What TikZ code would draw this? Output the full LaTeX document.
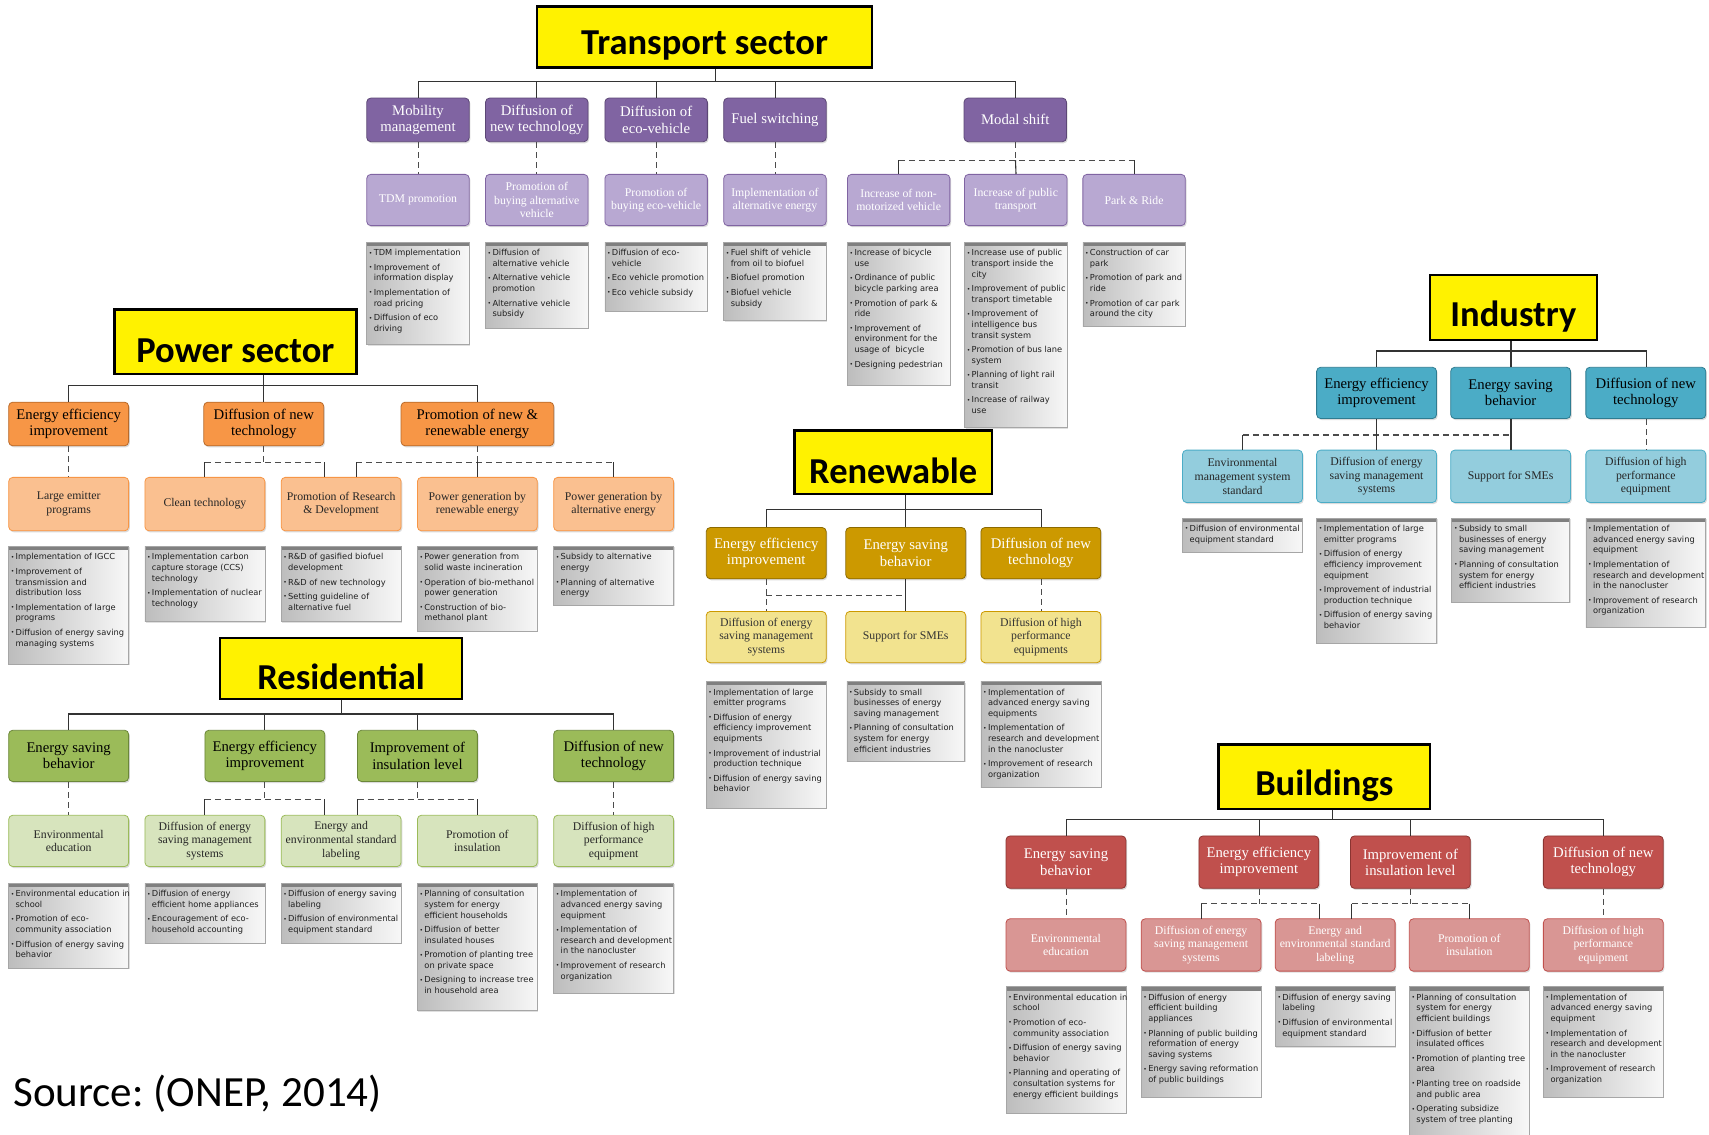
\documentclass[tikz,border=0pt]{standalone}
\usepackage{fontspec}
\setmainfont{Liberation Serif}
\newfontfamily\ttlfont{Carlito}
\newfontfamily\bulfont{DejaVu Sans}
\usetikzlibrary{shadows}
\definecolor{tpC}{HTML}{8064A2}\definecolor{tpB}{HTML}{5C4776}\definecolor{tpG}{HTML}{B8A8D2}
\definecolor{pwC}{HTML}{F79646}\definecolor{pwB}{HTML}{B96A2A}\definecolor{pwG}{HTML}{FAC090}
\definecolor{rsC}{HTML}{9BBB59}\definecolor{rsB}{HTML}{6B8739}\definecolor{rsG}{HTML}{D7E4BD}
\definecolor{rnC}{HTML}{CC9900}\definecolor{rnB}{HTML}{8C6A00}\definecolor{rnG}{HTML}{F2E38F}
\definecolor{inC}{HTML}{4BACC6}\definecolor{inB}{HTML}{2E7C91}\definecolor{inG}{HTML}{93CDDD}
\definecolor{bdC}{HTML}{C0504D}\definecolor{bdB}{HTML}{8B3431}\definecolor{bdG}{HTML}{D99694}
\newcommand{\bu}{{\fontsize{5.5}{5}\selectfont\raisebox{0.5pt}{•}}}
\newcommand{\bi}{\bu&}
\newcommand{\cl}{\\&}
\newcommand{\nx}{\\[3.5pt]}
\newcommand{\blist}[1]{\begin{tabular}{@{}l@{\hspace{1.2pt}}l@{}}#1\end{tabular}}
\newcommand{\lowr}[1]{\raisebox{-8pt}[\height][\depth]{#1}}
\tikzset{
  basebox/.style={rounded corners=4pt, align=center, inner sep=1pt, line width=0.8pt,
    drop shadow={opacity=0.28, shadow xshift=1.2pt, shadow yshift=-1.6pt}},
  kidbox/.style={basebox, minimum width=110pt, minimum height=47pt, font=\fontsize{13.5}{15}\selectfont},
  grandbox/.style={basebox, minimum width=110pt, minimum height=47pt, font=\fontsize{10.8}{12.6}\selectfont},
  ttlbox/.style={draw=black, fill=yellow, line width=2.2pt, inner sep=0pt, font=\ttlfont\bfseries\fontsize{33.5}{36}\selectfont},
  tK/.style={kidbox, fill=tpC, draw=tpB, text=white, minimum width=94pt, minimum height=40pt},
  tG/.style={grandbox, fill=tpG, draw=tpC, text=white, minimum width=94pt},
  pK/.style={kidbox, fill=pwC, draw=pwB, text=black, minimum height=40pt},
  pG/.style={grandbox, fill=pwG, draw=pwC, text=black!85, minimum height=49pt},
  rK/.style={kidbox, fill=rsC, draw=rsB, text=black},
  rG/.style={grandbox, fill=rsG, draw=rsC, text=black!85},
  nK/.style={kidbox, fill=rnC, draw=rnB, text=white},
  nG/.style={grandbox, fill=rnG, draw=rnC, text=black!80},
  iK/.style={kidbox, fill=inC, draw=inB, text=black},
  iG/.style={grandbox, fill=inG, draw=inC, text=black!85, minimum height=48pt},
  dK/.style={kidbox, fill=bdC, draw=bdB, text=white, minimum height=48pt},
  dG/.style={grandbox, fill=bdG, draw=bdC, text=white, minimum height=48pt},
  bbox/.style={draw=black!35, line width=0.6pt, left color=black!26, right color=black!3, anchor=north, inner sep=0pt,
    drop shadow={opacity=0.25, shadow xshift=1pt, shadow yshift=-1pt},
    path picture={\fill[black!50] (path picture bounding box.north west) rectangle ([yshift=-3.5pt]path picture bounding box.north east);}},
  btext/.style={anchor=north west, inner sep=0pt, font=\bulfont\fontsize{7.6}{9.8}\selectfont, text=black!88},
  conn/.style={draw=black!80, line width=1.1pt},
  dconn/.style={draw=black!70, line width=1.1pt, dash pattern=on 6pt off 4pt},
}
\begin{document}
\begin{tikzpicture}[x=1pt, y=1pt, scale=1.09, every node/.append style={transform shape}]
\useasboundingbox (0,0) rectangle (1568,-1041.3);
\fill[white] (0,0) rectangle (1568,-1041.3);

% ================= TRANSPORT =================
\node[ttlbox, minimum width=307pt, minimum height=56pt] (tt) at (646.5,-34) {\lowr{Transport sector}};
\node[tK] (tc1) at (383.5,-110) {Mobility\\management};
\node[tK] (tc2) at (492.5,-110) {Diffusion of\\new technology};
\node[tK] (tc3) at (602,-110) {Diffusion of\\eco-vehicle};
\node[tK] (tc4) at (711,-110) {Fuel switching};
\node[tK] (tc5) at (931.5,-110) {Modal shift};
\node[tG] (tg1) at (383.5,-183.5) {TDM promotion};
\node[tG] (tg2) at (492.5,-183.5) {Promotion of\\buying alternative\\vehicle};
\node[tG] (tg3) at (602,-183.5) {Promotion of\\buying eco-vehicle};
\node[tG] (tg4) at (711,-183.5) {Implementation of\\alternative energy};
\node[tG] (tg5) at (824.5,-183.5) {Increase of non-\\motorized vehicle};
\node[tG] (tg6) at (932,-183.5) {Increase of public\\transport};
\node[tG] (tg7) at (1040.5,-183.5) {Park \& Ride};
\coordinate (tbus) at (656,-75);
\draw[conn] (tt.south -| tbus) -- (tbus);
\draw[conn] (tc1.north) |- (tbus) -| (tc5.north);
\foreach \k in {2,3,4} \draw[conn] (tc\k.north) -- (tc\k.north |- tbus);
\foreach \k in {1,2,3,4} \draw[dconn] (tc\k.south) -- (tg\k.north);
\coordinate (tm) at (931.5,-147);
\draw[dconn] (tc5.south) -- (tm);
\draw[dconn] (tg5.north |- tm) -- (tg7.north |- tm);
\draw[conn] (tg5.north |- tm) -- (tg5.north);
\draw[conn] (tm) -- (tg6.north);
\draw[conn] (tg7.north |- tm) -- (tg7.north);

\node[bbox, minimum width=94pt, minimum height=94pt] (tb1) at (383.5,-222) {};
\node[btext] (tb1t) at ([xshift=2pt,yshift=-5.5pt]tb1.north west) {\blist{\bi TDM implementation\nx \bi Improvement of\cl information display\nx \bi Implementation of\cl road pricing\nx \bi Diffusion of eco\cl driving}};
\node[bbox, minimum width=94pt, minimum height=79pt] (tb2) at (492.5,-222) {};
\node[btext] (tb2t) at ([xshift=2pt,yshift=-5.5pt]tb2.north west) {\blist{\bi Diffusion of\cl alternative vehicle\nx \bi Alternative vehicle\cl promotion\nx \bi Alternative vehicle\cl subsidy}};
\node[bbox, minimum width=94pt, minimum height=63pt] (tb3) at (602,-222) {};
\node[btext] (tb3t) at ([xshift=2pt,yshift=-5.5pt]tb3.north west) {\blist{\bi Diffusion of eco-\cl vehicle\nx \bi Eco vehicle promotion\nx \bi Eco vehicle subsidy}};
\node[bbox, minimum width=94pt, minimum height=72pt] (tb4) at (711,-222) {};
\node[btext] (tb4t) at ([xshift=2pt,yshift=-5.5pt]tb4.north west) {\blist{\bi Fuel shift of vehicle\cl from oil to biofuel\nx \bi Biofuel promotion\nx \bi Biofuel vehicle\cl subsidy}};
\node[bbox, minimum width=94pt, minimum height=131pt] (tb5) at (824.5,-222) {};
\node[btext] (tb5t) at ([xshift=2pt,yshift=-5.5pt]tb5.north west) {\blist{\bi Increase of bicycle\cl use\nx \bi Ordinance of public\cl bicycle parking area\nx \bi Promotion of park \&\cl ride\nx \bi Improvement of\cl environment for the\cl usage of\ \ bicycle\nx \bi Designing pedestrian}};
\node[bbox, minimum width=94pt, minimum height=170pt] (tb6) at (932,-222) {};
\node[btext] (tb6t) at ([xshift=2pt,yshift=-5.5pt]tb6.north west) {\blist{\bi Increase use of public\cl transport inside the\cl city\nx \bi Improvement of public\cl transport timetable\nx \bi Improvement of\cl intelligence bus\cl transit system\nx \bi Promotion of bus lane\cl system\nx \bi Planning of light rail\cl transit\nx \bi Increase of railway\cl use}};
\node[bbox, minimum width=94pt, minimum height=77pt] (tb7) at (1040.5,-222) {};
\node[btext] (tb7t) at ([xshift=2pt,yshift=-5.5pt]tb7.north west) {\blist{\bi Construction of car\cl park\nx \bi Promotion of park and\cl ride\nx \bi Promotion of car park\cl around the city}};

% ================= POWER =================
\node[ttlbox, minimum width=222pt, minimum height=59pt] (pt) at (216,-313.5) {\lowr{Power sector}};
\node[pK] (pc1) at (63,-389) {Energy efficiency\\improvement};
\node[pK] (pc2) at (242,-389) {Diffusion of new\\technology};
\node[pK, minimum width=140pt] (pc3) at (438,-389) {Promotion of new \&\\renewable energy};
\node[pG] (pg1) at (63,-462.5) {Large emitter\\programs};
\node[pG] (pg2) at (188,-462.5) {Clean technology};
\node[pG] (pg3) at (313,-462.5) {Promotion of Research\\\& Development};
\node[pG] (pg4) at (438,-462.5) {Power generation by\\renewable energy};
\node[pG] (pg5) at (563,-462.5) {Power generation by\\alternative energy};
\coordinate (pbus) at (242,-354);
\draw[conn] (pt.south -| pbus) -- (pbus);
\draw[conn] (pc1.north) |- (pbus) -| (pc3.north);
\draw[conn] (pbus) -- (pc2.north);
\draw[dconn] (pc1.south) -- (pg1.north);
\coordinate (pd2) at (242,-424);
\coordinate (pd2r) at (298,-424);
\draw[dconn] (pc2.south) -- (pd2);
\draw[dconn] (pg2.north |- pd2) -- (pd2r);
\draw[conn] (pg2.north |- pd2) -- (pg2.north);
\draw[conn] (pd2r) -- (pd2r |- pg3.north);
\coordinate (pd3) at (438,-424);
\coordinate (pd3l) at (327,-424);
\draw[dconn] (pc3.south) -- (pd3);
\draw[dconn] (pd3l) -- (pg5.north |- pd3);
\draw[conn] (pd3l) -- (pd3l |- pg3.north);
\draw[conn] (pd3) -- (pg4.north);
\draw[conn] (pg5.north |- pd3) -- (pg5.north);

\node[bbox, minimum width=110pt, minimum height=108pt] (pb1) at (63,-501) {};
\node[btext] (pb1t) at ([xshift=2pt,yshift=-5.5pt]pb1.north west) {\blist{\bi Implementation of IGCC\nx \bi Improvement of\cl transmission and\cl distribution loss\nx \bi Implementation of large\cl programs\nx \bi Diffusion of energy saving\cl managing systems}};
\node[bbox, minimum width=110pt, minimum height=69pt] (pb2) at (188,-501) {};
\node[btext] (pb2t) at ([xshift=2pt,yshift=-5.5pt]pb2.north west) {\blist{\bi Implementation carbon\cl capture storage (CCS)\cl technology\nx \bi Implementation of nuclear\cl technology}};
\node[bbox, minimum width=110pt, minimum height=69pt] (pb3) at (313,-501) {};
\node[btext] (pb3t) at ([xshift=2pt,yshift=-5.5pt]pb3.north west) {\blist{\bi R\&D of gasified biofuel\cl development\nx \bi R\&D of new technology\nx \bi Setting guideline of\cl alternative fuel}};
\node[bbox, minimum width=110pt, minimum height=78pt] (pb4) at (438,-501) {};
\node[btext] (pb4t) at ([xshift=2pt,yshift=-5.5pt]pb4.north west) {\blist{\bi Power generation from\cl solid waste incineration\nx \bi Operation of bio-methanol\cl power generation\nx \bi Construction of bio-\cl methanol plant}};
\node[bbox, minimum width=110pt, minimum height=54pt] (pb5) at (563,-501) {};
\node[btext] (pb5t) at ([xshift=2pt,yshift=-5.5pt]pb5.north west) {\blist{\bi Subsidy to alternative\cl energy\nx \bi Planning of alternative\cl energy}};

% ================= RESIDENTIAL =================
\node[ttlbox, minimum width=222pt, minimum height=56pt] (rt) at (313,-613) {\lowr{Residential}};
\node[rK] (rc1) at (63,-693.5) {Energy saving\\behavior};
\node[rK] (rc2) at (243,-693.5) {Energy efficiency\\improvement};
\node[rK] (rc3) at (383,-693.5) {Improvement of\\insulation level};
\node[rK] (rc4) at (563,-693.5) {Diffusion of new\\technology};
\node[rG] (rg1) at (63,-771.5) {Environmental\\education};
\node[rG] (rg2) at (188,-771.5) {Diffusion of energy\\saving management\\systems};
\node[rG] (rg3) at (313,-771.5) {Energy and\\environmental standard\\labeling};
\node[rG] (rg4) at (438,-771.5) {Promotion of\\insulation};
\node[rG] (rg5) at (563,-771.5) {Diffusion of high\\performance\\equipment};
\coordinate (rbus) at (313,-655);
\draw[conn] (rt.south -| rbus) -- (rbus);
\draw[conn] (rc1.north) |- (rbus) -| (rc4.north);
\foreach \k in {2,3} \draw[conn] (rc\k.north) -- (rc\k.north |- rbus);
\draw[dconn] (rc1.south) -- (rg1.north);
\draw[dconn] (rc4.south) -- (rg5.north);
\coordinate (rd2) at (243,-733);
\coordinate (rd2r) at (298,-733);
\draw[dconn] (rc2.south) -- (rd2);
\draw[dconn] (rg2.north |- rd2) -- (rd2r);
\draw[conn] (rg2.north |- rd2) -- (rg2.north);
\draw[conn] (rd2r) -- (rd2r |- rg3.north);
\coordinate (rd3) at (383,-733);
\coordinate (rd3l) at (328,-733);
\draw[dconn] (rc3.south) -- (rd3);
\draw[dconn] (rd3l) -- (rg4.north |- rd3);
\draw[conn] (rd3l) -- (rd3l |- rg3.north);
\draw[conn] (rg4.north |- rd3) -- (rg4.north);

\node[bbox, minimum width=110pt, minimum height=78pt] (rb1) at (63,-810) {};
\node[btext] (rb1t) at ([xshift=2pt,yshift=-5.5pt]rb1.north west) {\blist{\bi Environmental education in\cl school\nx \bi Promotion of eco-\cl community association\nx \bi Diffusion of energy saving\cl behavior}};
\node[bbox, minimum width=110pt, minimum height=55pt] (rb2) at (188,-810) {};
\node[btext] (rb2t) at ([xshift=2pt,yshift=-5.5pt]rb2.north west) {\blist{\bi Diffusion of energy\cl efficient home appliances\nx \bi Encouragement of eco-\cl household accounting}};
\node[bbox, minimum width=110pt, minimum height=55pt] (rb3) at (313,-810) {};
\node[btext] (rb3t) at ([xshift=2pt,yshift=-5.5pt]rb3.north west) {\blist{\bi Diffusion of energy saving\cl labeling\nx \bi Diffusion of environmental\cl equipment standard}};
\node[bbox, minimum width=110pt, minimum height=117pt] (rb4) at (438,-810) {};
\node[btext] (rb4t) at ([xshift=2pt,yshift=-5.5pt]rb4.north west) {\blist{\bi Planning of consultation\cl system for energy\cl efficient households\nx \bi Diffusion of better\cl insulated houses\nx \bi Promotion of planting tree\cl on private space\nx \bi Designing to increase tree\cl in household area}};
\node[bbox, minimum width=110pt, minimum height=101pt] (rb5) at (563,-810) {};
\node[btext] (rb5t) at ([xshift=2pt,yshift=-5.5pt]rb5.north west) {\blist{\bi Implementation of\cl advanced energy saving\cl equipment\nx \bi Implementation of\cl research and development\cl in the nanocluster\nx \bi Improvement of research\cl organization}};

% ================= RENEWABLE =================
\node[ttlbox, minimum width=181pt, minimum height=58pt] (nt) at (819.5,-424) {\lowr{Renewable}};
\node[nK] (nc1) at (703,-507.5) {Energy efficiency\\improvement};
\node[nK] (nc2) at (831,-507.5) {Energy saving\\behavior};
\node[nK] (nc3) at (955,-507.5) {Diffusion of new\\technology};
\node[nG] (ng1) at (703,-584.5) {Diffusion of energy\\saving management\\systems};
\node[nG] (ng2) at (831,-584.5) {Support for SMEs};
\node[nG] (ng3) at (955,-584.5) {Diffusion of high\\performance\\equipments};
\coordinate (nbus) at (831,-467);
\draw[conn] (nt.south -| nbus) -- (nbus);
\draw[conn] (nc1.north) |- (nbus) -| (nc3.north);
\draw[conn] (nbus) -- (nc2.north);
\coordinate (nd) at (831,-546);
\draw[dconn] (nc1.south) -- (ng1.north);
\draw[dconn] (nd -| ng1.north) -- (nd);
\draw[conn] (nc2.south) -- (ng2.north);
\draw[dconn] (nc3.south) -- (ng3.north);

\node[bbox, minimum width=110pt, minimum height=116pt] (nb1) at (703,-625) {};
\node[btext] (nb1t) at ([xshift=2pt,yshift=-5.5pt]nb1.north west) {\blist{\bi Implementation of large\cl emitter programs\nx \bi Diffusion of energy\cl efficiency improvement\cl equipments\nx \bi Improvement of industrial\cl production technique\nx \bi Diffusion of energy saving\cl behavior}};
\node[bbox, minimum width=108pt, minimum height=73pt] (nb2) at (831,-625) {};
\node[btext] (nb2t) at ([xshift=2pt,yshift=-5.5pt]nb2.north west) {\blist{\bi Subsidy to small\cl businesses of energy\cl saving management\nx \bi Planning of consultation\cl system for energy\cl efficient industries}};
\node[bbox, minimum width=110pt, minimum height=97pt] (nb3) at (955,-625) {};
\node[btext] (nb3t) at ([xshift=2pt,yshift=-5.5pt]nb3.north west) {\blist{\bi Implementation of\cl advanced energy saving\cl equipments\nx \bi Implementation of\cl research and development\cl in the nanocluster\nx \bi Improvement of research\cl organization}};

% ================= INDUSTRY =================
\node[ttlbox, minimum width=153pt, minimum height=60pt] (it) at (1388.5,-282) {\lowr{Industry}};
\node[iK] (ic1) at (1263,-360.5) {Energy efficiency\\improvement};
\node[iK] (ic2) at (1386,-360.5) {Energy saving\\behavior};
\node[iK] (ic3) at (1510,-360.5) {Diffusion of new\\technology};
\node[iG] (ig1) at (1140,-437) {Environmental\\management system\\standard};
\node[iG] (ig2) at (1263,-437) {Diffusion of energy\\saving management\\systems};
\node[iG] (ig3) at (1386,-437) {Support for SMEs};
\node[iG] (ig4) at (1510,-437) {Diffusion of high\\performance\\equipment};
\coordinate (ibus) at (1386,-322);
\draw[conn] (it.south -| ibus) -- (ibus);
\draw[conn] (ic1.north) |- (ibus) -| (ic3.north);
\draw[conn] (ibus) -- (ic2.north);
\coordinate (id) at (1386,-399);
\draw[dconn] (ig1.north |- id) -- (id);
\draw[conn] (ic1.south) -- (ig2.north);
\draw[conn] (ic2.south) -- (ig3.north);
\draw[conn] (ig1.north |- id) -- (ig1.north);
\draw[dconn] (ic3.south) -- (ig4.north);

\node[bbox, minimum width=110pt, minimum height=31pt] (ib1) at (1140,-475) {};
\node[btext] (ib1t) at ([xshift=2pt,yshift=-5.5pt]ib1.north west) {\blist{\bi Diffusion of environmental\cl equipment standard}};
\node[bbox, minimum width=110pt, minimum height=115pt] (ib2) at (1263,-475) {};
\node[btext] (ib2t) at ([xshift=2pt,yshift=-5.5pt]ib2.north west) {\blist{\bi Implementation of large\cl emitter programs\nx \bi Diffusion of energy\cl efficiency improvement\cl equipment\nx \bi Improvement of industrial\cl production technique\nx \bi Diffusion of energy saving\cl behavior}};
\node[bbox, minimum width=108pt, minimum height=77pt] (ib3) at (1386,-475) {};
\node[btext] (ib3t) at ([xshift=2pt,yshift=-5.5pt]ib3.north west) {\blist{\bi Subsidy to small\cl businesses of energy\cl saving management\nx \bi Planning of consultation\cl system for energy\cl efficient industries}};
\node[bbox, minimum width=110pt, minimum height=100pt] (ib4) at (1510,-475) {};
\node[btext] (ib4t) at ([xshift=2pt,yshift=-5.5pt]ib4.north west) {\blist{\bi Implementation of\cl advanced energy saving\cl equipment\nx \bi Implementation of\cl research and development\cl in the nanocluster\nx \bi Improvement of research\cl organization}};

% ================= BUILDINGS =================
\node[ttlbox, minimum width=194pt, minimum height=59pt] (dt) at (1215,-712.5) {\lowr{Buildings}};
\node[dK] (dc1) at (978,-791) {Energy saving\\behavior};
\node[dK] (dc2) at (1155,-791) {Energy efficiency\\improvement};
\node[dK] (dc3) at (1294,-791) {Improvement of\\insulation level};
\node[dK] (dc4) at (1471,-791) {Diffusion of new\\technology};
\node[dG] (dg1) at (978,-867) {Environmental\\education};
\node[dG] (dg2) at (1102,-867) {Diffusion of energy\\saving management\\systems};
\node[dG] (dg3) at (1225,-867) {Energy and\\environmental standard\\labeling};
\node[dG] (dg4) at (1348,-867) {Promotion of\\insulation};
\node[dG] (dg5) at (1471,-867) {Diffusion of high\\performance\\equipment};
\coordinate (dbus) at (1222,-752);
\draw[conn] (dt.south -| dbus) -- (dbus);
\draw[conn] (dc1.north) |- (dbus) -| (dc4.north);
\foreach \k in {2,3} \draw[conn] (dc\k.north) -- (dc\k.north |- dbus);
\draw[dconn] (dc1.south) -- (dg1.north);
\draw[dconn] (dc4.south) -- (dg5.north);
\coordinate (dd2) at (1155,-829);
\coordinate (dd2r) at (1210,-829);
\draw[dconn] (dc2.south) -- (dd2);
\draw[dconn] (dg2.north |- dd2) -- (dd2r);
\draw[conn] (dg2.north |- dd2) -- (dg2.north);
\draw[conn] (dd2r) -- (dd2r |- dg3.north);
\coordinate (dd3) at (1294,-829);
\coordinate (dd3l) at (1240,-829);
\draw[dconn] (dc3.south) -- (dd3);
\draw[dconn] (dd3l) -- (dg4.north |- dd3);
\draw[conn] (dd3l) -- (dd3l |- dg3.north);
\draw[conn] (dg4.north |- dd3) -- (dg4.north);

\node[bbox, minimum width=110pt, minimum height=116pt] (bb1) at (978,-905) {};
\node[btext] (bb1t) at ([xshift=2pt,yshift=-5.5pt]bb1.north west) {\blist{\bi Environmental education in\cl school\nx \bi Promotion of eco-\cl community association\nx \bi Diffusion of energy saving\cl behavior\nx \bi Planning and operating of\cl consultation systems for\cl energy efficient buildings}};
\node[bbox, minimum width=110pt, minimum height=101pt] (bb2) at (1102,-905) {};
\node[btext] (bb2t) at ([xshift=2pt,yshift=-5.5pt]bb2.north west) {\blist{\bi Diffusion of energy\cl efficient building\cl appliances\nx \bi Planning of public building\cl reformation of energy\cl saving systems\nx \bi Energy saving reformation\cl of public buildings}};
\node[bbox, minimum width=110pt, minimum height=55pt] (bb3) at (1225,-905) {};
\node[btext] (bb3t) at ([xshift=2pt,yshift=-5.5pt]bb3.north west) {\blist{\bi Diffusion of energy saving\cl labeling\nx \bi Diffusion of environmental\cl equipment standard}};
\node[bbox, minimum width=110pt, minimum height=145pt] (bb4) at (1348,-905) {};
\node[btext] (bb4t) at ([xshift=2pt,yshift=-5.5pt]bb4.north west) {\blist{\bi Planning of consultation\cl system for energy\cl efficient buildings\nx \bi Diffusion of better\cl insulated offices\nx \bi Promotion of planting tree\cl area\nx \bi Planting tree on roadside\cl and public area\nx \bi Operating subsidize\cl system of tree planting}};
\node[bbox, minimum width=110pt, minimum height=101pt] (bb5) at (1471,-905) {};
\node[btext] (bb5t) at ([xshift=2pt,yshift=-5.5pt]bb5.north west) {\blist{\bi Implementation of\cl advanced energy saving\cl equipment\nx \bi Implementation of\cl research and development\cl in the nanocluster\nx \bi Improvement of research\cl organization}};

% ================= SOURCE =================
\node[anchor=base west, inner sep=0pt, font=\ttlfont\fontsize{39.5}{41}\selectfont] (src) at (12,-1015) {Source:\ (ONEP, 2014)};
\end{tikzpicture}
\end{document}
